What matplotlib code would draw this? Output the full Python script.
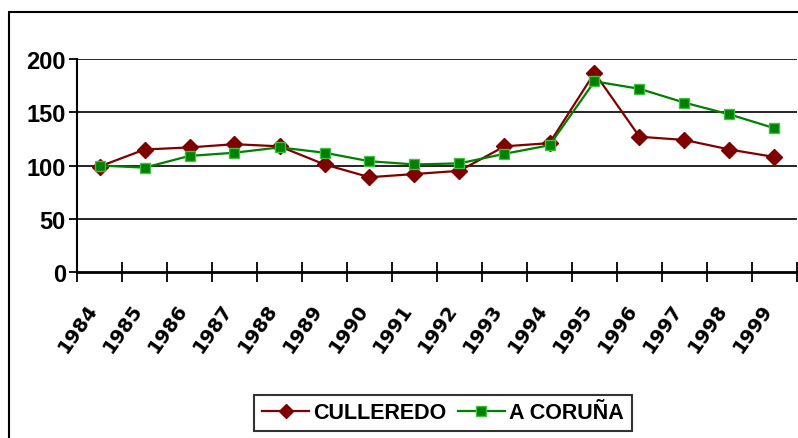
import matplotlib.pyplot as plt
from matplotlib.patches import Rectangle
from matplotlib.lines import Line2D
import numpy as np

plt.rcParams['font.family'] = ['Liberation Sans', 'DejaVu Sans']

years = ['1984', '1985', '1986', '1987', '1988', '1989', '1990', '1991',
         '1992', '1993', '1994', '1995', '1996', '1997', '1998', '1999']
culleredo = [99, 115, 117, 120, 118, 101, 89, 92, 95, 118, 121, 187, 127, 124, 115, 108]
coruna = [100, 98, 109, 112, 117, 112, 104, 101, 102, 111, 119, 179, 172, 159, 148, 135]
y_ticks = [0, 50, 100, 150, 200]

red = '#800000'
green = '#008000'

fig = plt.figure(figsize=(7.98, 4.39), dpi=100)
ax = fig.add_axes([77 / 798, 1 - 273 / 439, 720 / 798, 213 / 439])

# outer chart frame (only left and top edges are visible in the original)
fig.add_artist(Rectangle((9 / 798, -0.1), 1.2, 1 - 13 / 439 + 0.1,
                         transform=fig.transFigure, fill=False,
                         edgecolor='black', lw=1.5))

x = np.arange(len(years)) + 0.5
ax.plot(x, culleredo, color=red, lw=1.6, marker='D', ms=8,
        mfc=red, mec=red, zorder=4)
ax.plot(x, coruna, color=green, lw=1.6, marker='s', ms=7.5,
        mfc=green, mec='#40c040', mew=1, zorder=5)

ax.set_xlim(0, len(years))
ax.set_ylim(0, 200)
ax.set_yticks(y_ticks)
for v in y_ticks[1:]:
    ax.axhline(v, color='black', lw=1.2, zorder=1)

ax.set_xticks(np.arange(len(years) + 1))
ax.set_xticklabels([])
ax.tick_params(axis='x', direction='inout', length=14, width=1.3)
ax.tick_params(axis='y', direction='out', length=6, width=1.3,
               labelsize=17, pad=2)
for lab in ax.get_yticklabels():
    lab.set_fontweight('bold')

for xi, yr in zip(x, years):
    ax.text(xi - 0.3, -0.13, yr, transform=ax.get_xaxis_transform(),
            rotation=55, rotation_mode='anchor', ha='right', va='top',
            fontsize=14, fontweight='bold', family='DejaVu Sans')

for side in ['top', 'right']:
    ax.spines[side].set_visible(False)
ax.spines['left'].set_linewidth(1.5)
ax.spines['bottom'].set_linewidth(2)

handles = [
    Line2D([], [], color=red, lw=1.6, marker='D', ms=7, mfc=red, mec=red),
    Line2D([], [], color=green, lw=1.6, marker='s', ms=6.5, mfc=green, mec='#40c040'),
]
leg = fig.legend(handles, ['CULLEREDO', 'A CORUÑA'], loc='center',
                 bbox_to_anchor=(443 / 798, 1 - 414 / 439), ncol=2,
                 frameon=True, fancybox=False, handlelength=2.2,
                 handletextpad=0.2, columnspacing=0.5, borderpad=0.35,
                 borderaxespad=0,
                 prop={'weight': 'bold', 'size': 15.5})
leg.get_frame().set_edgecolor('black')
leg.get_frame().set_linewidth(1.5)

fig.savefig('out.png', dpi=100)
